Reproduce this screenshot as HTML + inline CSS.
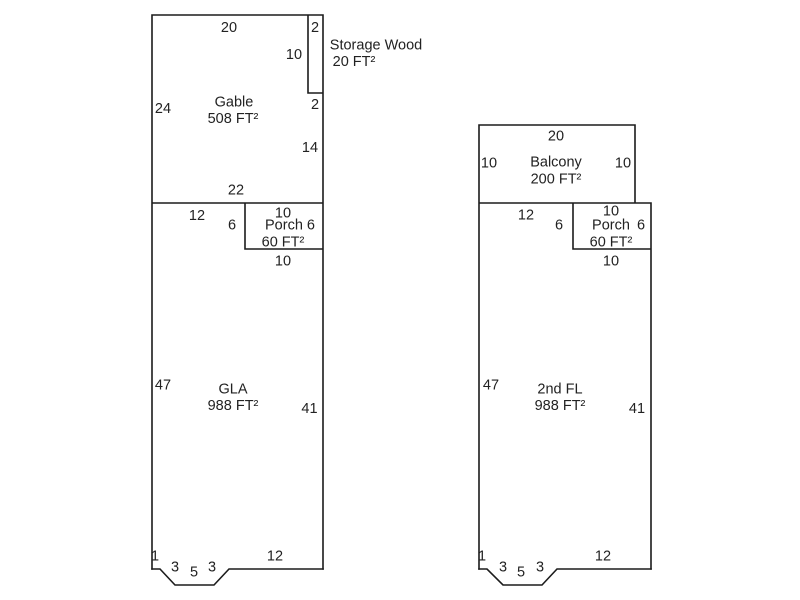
<!DOCTYPE html>
<html>
<head>
<meta charset="utf-8">
<style>
html,body{margin:0;padding:0;background:#fff;width:800px;height:600px;overflow:hidden}
svg{display:block}
text{font-family:"Liberation Sans",Arial,sans-serif;font-size:14.5px;fill:#222;text-anchor:middle}
path,polyline{fill:none;stroke:#1c1c1c;stroke-width:1.6;stroke-linecap:square}
</style>
</head>
<body>
<svg width="800" height="600" viewBox="0 0 800 600" xmlns="http://www.w3.org/2000/svg">
<path d="M152 15H323V569M152 15V569M152 203H323M245 203V249H323M308 15V93H323"/>
<polyline points="152,569 160,569 175,585 214,585 229,569 323,569"/>

<path d="M479 125H635V203M479 125V569M479 203H651V569M573 203V249H651"/>
<polyline points="479,569 487,569 503,585 542,585 557,569 651,569"/>

<text x="229" y="32">20</text>
<text x="315" y="32">2</text>
<text x="294" y="59">10</text>
<text x="376" y="49.500">Storage Wood</text>
<text x="354" y="66">20 FT²</text>
<text x="315" y="109">2</text>
<text x="163" y="113">24</text>
<text x="234" y="106.500">Gable</text>
<text x="233" y="123">508 FT²</text>
<text x="310" y="152">14</text>
<text x="236" y="194.500">22</text>
<text x="197" y="220">12</text>
<text x="232" y="229.500">6</text>
<text x="283" y="217.500">10</text>
<text x="290" y="229.500">Porch 6</text>
<text x="283" y="246.500">60 FT²</text>
<text x="283" y="265.500">10</text>
<text x="233" y="393.500">GLA</text>
<text x="233" y="410">988 FT²</text>
<text x="163" y="389.500">47</text>
<text x="309.500" y="413">41</text>
<text x="155" y="560.500">1</text>
<text x="175" y="571.500">3</text>
<text x="194" y="576.500">5</text>
<text x="212" y="571.500">3</text>
<text x="275" y="560.500">12</text>

<text x="556" y="140.500">20</text>
<text x="489" y="167.500">10</text>
<text x="623" y="167.500">10</text>
<text x="556" y="166.500">Balcony</text>
<text x="556" y="183.500">200 FT²</text>
<text x="526" y="219.500">12</text>
<text x="559" y="229.500">6</text>
<text x="611" y="215.500">10</text>
<text x="611" y="229.500">Porch</text>
<text x="641" y="229.500">6</text>
<text x="611" y="246.500">60 FT²</text>
<text x="611" y="265.500">10</text>
<text x="560" y="393.500">2nd FL</text>
<text x="560" y="410">988 FT²</text>
<text x="491" y="389.500">47</text>
<text x="637" y="413">41</text>
<text x="482" y="560.500">1</text>
<text x="503" y="571.500">3</text>
<text x="521" y="576.500">5</text>
<text x="540" y="571.500">3</text>
<text x="603" y="560.500">12</text>
</svg>
</body>
</html>
